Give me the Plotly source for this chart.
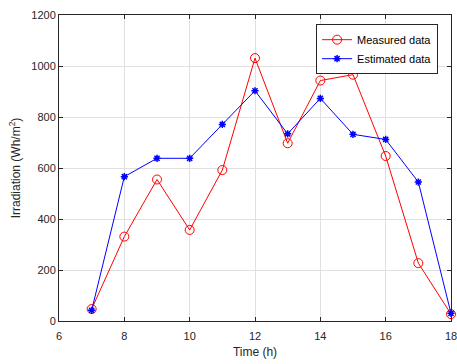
import plotly.graph_objects as go

hours = [7, 8, 9, 10, 11, 12, 13, 14, 15, 16, 17, 18]
measured = [47, 331, 555, 357, 592, 1031, 697, 943, 966, 647, 227, 27]
estimated = [42, 566, 638, 638, 771, 903, 734, 873, 732, 712, 545, 30]

fig = go.Figure()
fig.add_trace(go.Scatter(x=hours, y=measured, mode="lines+markers", name="Measured data",
                         cliponaxis=False,
                         line=dict(color="#ff0000", width=1),
                         marker=dict(symbol="circle-open", size=9, color="#ff0000", line=dict(width=1))))
fig.add_trace(go.Scatter(x=hours, y=estimated, mode="lines+markers", name="Estimated data",
                         cliponaxis=False,
                         line=dict(color="#0000ff", width=1),
                         marker=dict(symbol="asterisk-open", size=6, color="#0000ff", line=dict(width=1.5, color="#0000ff"))))

font = "Liberation Sans, Arial"
axis_common = dict(showline=True, linecolor="#262626", linewidth=1, mirror="ticks",
                   ticks="inside", ticklen=4, tickcolor="#262626",
                   showgrid=True, gridcolor="#e0e0e0", gridwidth=1, zeroline=False,
                   ticklabeloverflow="allow",
                   tickfont=dict(family=font, size=11, color="#262626"))

fig.update_xaxes(range=[6, 18], dtick=2, tick0=6, ticklabelstandoff=5,
                 title=dict(text="Time (h)", font=dict(family=font, size=12, color="#262626"), standoff=6),
                 **axis_common)
fig.update_yaxes(range=[0, 1200], dtick=200,
                 title=dict(text="Irradiation (Wh/m<sup>2</sup>)", font=dict(family=font, size=12, color="#262626"), standoff=8),
                 **axis_common)

fig.update_layout(width=457, height=364, margin=dict(l=59, r=6, t=15, b=43, autoexpand=False),
                  paper_bgcolor="white", plot_bgcolor="white",
                  legend=dict(x=0.967, y=0.97, xanchor="right", yanchor="top",
                              bordercolor="#262626", borderwidth=1, bgcolor="white",
                              font=dict(family=font, size=11, color="#000000"),
                              tracegroupgap=0, itemwidth=30))
fig.write_html("out.html", config={"displayModeBar": False},
               post_script="document.body.style.margin='0px';document.body.style.overflow='hidden';")
